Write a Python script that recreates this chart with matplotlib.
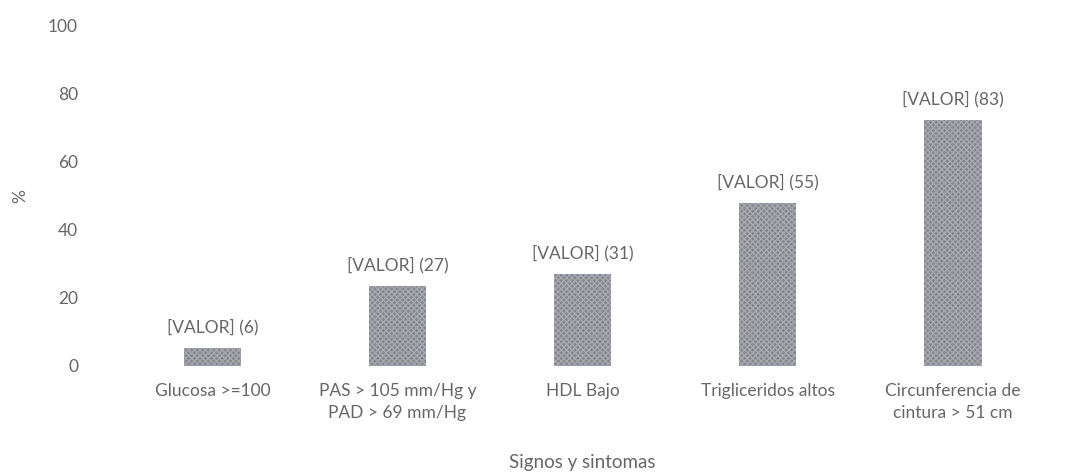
import matplotlib
matplotlib.use("Agg")
import matplotlib.pyplot as plt

categories = ["Glucosa >=100", "PAS > 105 mm/Hg y\nPAD > 69 mm/Hg", "HDL Bajo",
              "Trigliceridos altos", "Circunferencia de\ncintura > 51 cm"]
percent = [5.2, 23.5, 27.0, 47.8, 72.2]
counts = [6, 27, 31, 55, 83]
yticks = [0, 20, 40, 60, 80, 100]

plt.rcParams['font.family'] = ['Lato', 'DejaVu Sans']
plt.rcParams['hatch.linewidth'] = 0.9

fig = plt.figure(figsize=(10.89, 4.75), dpi=100)
ax = fig.add_axes([0.110, 0.2295, 0.850, 0.7175])
text_color = '#666666'

x = list(range(len(categories)))
ax.bar(x, percent, width=0.31, color='#86868f', hatch='xxxxxx', edgecolor='#a9a9b2', linewidth=0)

for xi, p, c in zip(x, percent, counts):
    ax.annotate(f"[VALOR] ({c})", (xi, p), xytext=(0, 9), textcoords='offset points',
                ha='center', va='bottom', fontsize=12.5, color=text_color)

ax.set_xlim(-0.5, len(categories) - 0.5)
ax.set_ylim(0, 100)
ax.set_yticks(yticks)
ax.set_xticks(x)
ax.set_xticklabels(categories, fontsize=12.5, color=text_color, linespacing=1.5)
ax.tick_params(axis='y', labelsize=12.5, labelcolor=text_color, length=0, pad=30)
ax.tick_params(axis='x', length=0, pad=12)
for s in ax.spines.values():
    s.set_visible(False)

ax.set_ylabel("%", fontsize=12.5, color=text_color, labelpad=14)
ax.set_xlabel("Signos y sintomas", fontsize=13.5, color=text_color, labelpad=24)

fig.savefig("out.png", dpi=100)
